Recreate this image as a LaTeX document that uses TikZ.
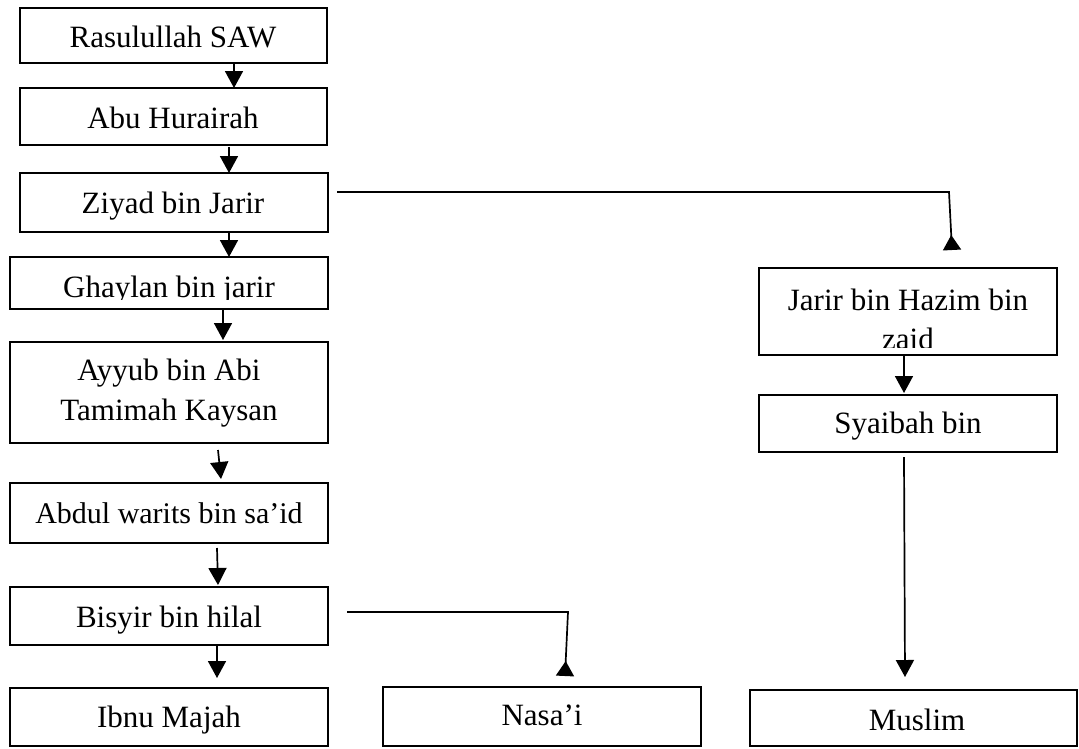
\documentclass[tikz,border=0pt]{standalone}
\usepackage{fontspec}
\setmainfont{Liberation Serif}
\usetikzlibrary{arrows.meta}
\begin{document}
\begin{tikzpicture}[x=1pt,y=-1pt,
  box/.style={draw, line width=2pt, inner sep=0pt, outer sep=0pt},
  lbl/.style={inner sep=0pt, anchor=base, font=\fontsize{31}{39}\selectfont},
  link/.style={line width=1.7pt, line join=miter},
  down/.style={link, -{Triangle[length=17pt,width=18pt]}},
  up/.style={link, -{Triangle[reversed,length=15pt,width=18pt]}}]
\useasboundingbox (0,0) rectangle (1079,748);

% rectangle node from its two corners: name, x1, y1, x2, y2
\newcommand\mkbox[5]{\node[box, minimum width={(#4-#2)*1pt}, minimum height={(#5-#3)*1pt}] (#1) at ({(#2+#4)/2},{(#3+#5)/2}) {};}

% main chain (left column)
\mkbox{ras}{20}{8}{327}{63}
\mkbox{abu}{20}{88}{327}{145}
\mkbox{ziy}{20}{173}{328}{232}
\mkbox{gha}{10}{257}{328}{309}
\mkbox{ayy}{10}{342}{328}{443}
\mkbox{abd}{10}{483}{328}{543}
\mkbox{bis}{10}{587}{328}{645}
\mkbox{ibn}{10}{688}{328}{746}
% collectors along the bottom
\mkbox{nas}{383}{687}{701}{746}
\mkbox{mus}{750}{690}{1077}{746}
% right branch
\mkbox{jar}{759}{268}{1057}{355}
\mkbox{sya}{759}{395}{1057}{452}

% labels
\node[lbl] (rast) at (173,47) {Rasulullah SAW};
\node[lbl] (abut) at (173,128) {Abu Hurairah};
\node[lbl] (ziyt) at (173,213) {Ziyad bin Jarir};
\begin{scope}
  \clip (10,257) rectangle (328,299.5);
  \node[lbl] (ghat) at (169,297) {Ghaylan bin jarir};
\end{scope}
\node[lbl] (ayyt1) at (169,380) {Ayyub bin Abi};
\node[lbl] (ayyt2) at (169,420) {Tamimah Kaysan};
\node[lbl, font=\fontsize{30}{36}\selectfont] (abdt) at (169,523) {Abdul warits bin sa’id};
\node[lbl] (bist) at (169,627) {Bisyir bin hilal};
\node[lbl] (ibnt) at (169,727) {Ibnu Majah};
\node[lbl] (nast) at (542,725) {Nasa’i};
\node[lbl] (must) at (917,730) {Muslim};
\node[lbl] (jart1) at (908,310) {Jarir bin Hazim bin};
\begin{scope}
  \clip (759,268) rectangle (1057,347.5);
  \node[lbl] (jart2) at (908,349) {zaid};
\end{scope}
\node[lbl] (syat) at (908,433) {Syaibah bin};

% arrows down the main chain
\draw[down] ([xshift=60.5pt]ras.south) -- ([xshift=60.5pt]abu.north);
\draw[down] ([xshift=55.5pt,yshift=-2pt]abu.south) -- ([xshift=55pt]ziy.north);
\draw[down] ([xshift=55pt]ziy.south) -- ([xshift=60pt]gha.north);
\draw[down] ([xshift=54pt,yshift=-1pt]gha.south) -- ([xshift=54pt,yshift=2pt]ayy.north);
\draw[down] ([xshift=49pt,yshift=-7pt]ayy.south) -- ([xshift=52pt,yshift=4pt]abd.north);
\draw[down] ([xshift=48pt,yshift=-5pt]abd.south) -- ([xshift=49pt,yshift=2pt]bis.north);
\draw[down] ([xshift=48pt]bis.south) -- ([xshift=48pt,yshift=10pt]ibn.north);

% branch to the right column
\coordinate (zjbend) at (949,192);
\coordinate (zjend) at (952,250);
\draw[up] ([xshift=9pt,yshift=10.5pt]ziy.east) -- (zjbend) -- (zjend);
\draw[down] ([xshift=-4pt]jar.south) -- ([xshift=-4pt,yshift=2pt]sya.north);
\draw[down] ([xshift=-4pt,yshift=-5pt]sya.south) -- ([xshift=-8.5pt,yshift=13pt]mus.north);

% branch to Nasa'i
\coordinate (bnbend) at (568,612);
\coordinate (bnend) at (565,676);
\draw[up] ([xshift=19pt,yshift=4pt]bis.east) -- (bnbend) -- (bnend);
\end{tikzpicture}
\end{document}
